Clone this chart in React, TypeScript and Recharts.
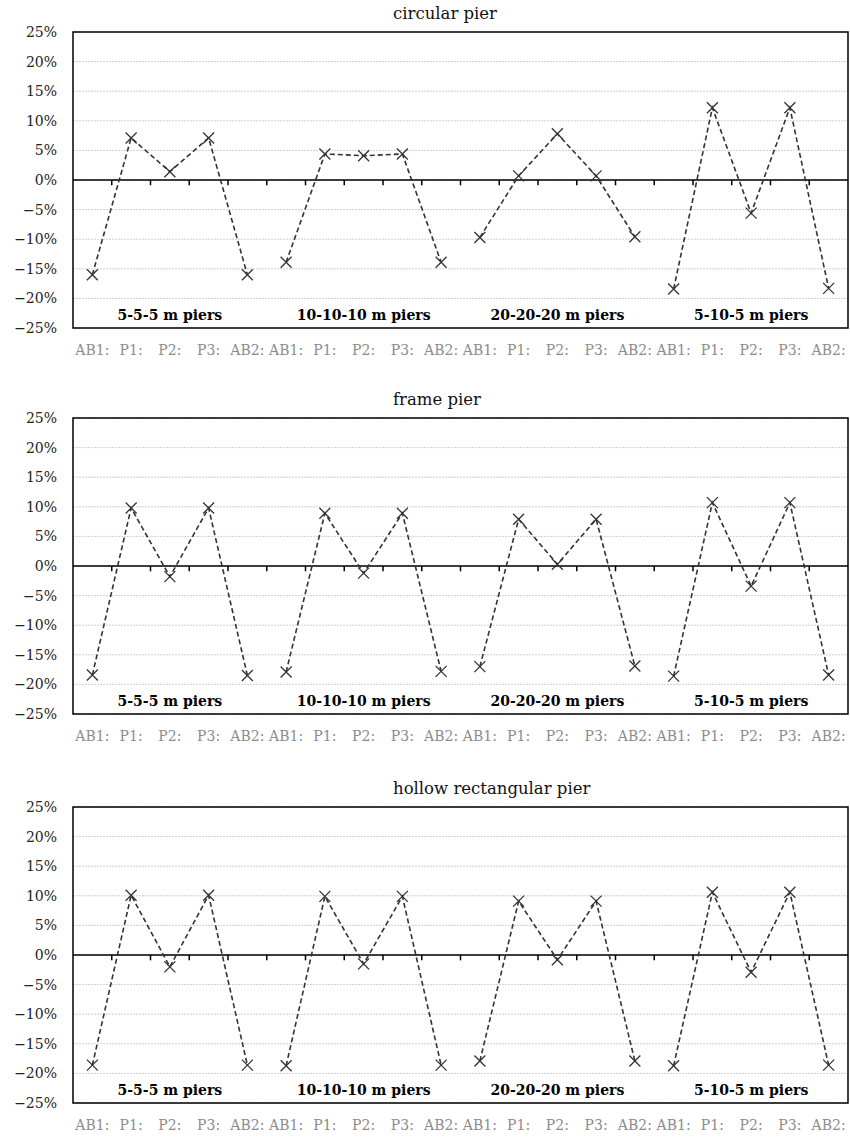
import React from "react";
import {
  LineChart,
  Line,
  XAxis,
  YAxis,
  CartesianGrid,
  ReferenceLine,
  ReferenceArea,
  ReferenceDot,
} from "recharts";

const categories = ["AB1:", "P1:", "P2:", "P3:", "AB2:"];
const groups = ["5-5-5 m piers", "10-10-10 m piers", "20-20-20 m piers", "5-10-5 m piers"];
const yTicks = [-25, -20, -15, -10, -5, 0, 5, 10, 15, 20, 25];

// % difference, read per support, 4 groups x 5 supports
const circularPier = [
  -16.0, 7.1, 1.4, 7.1, -16.0,
  -13.9, 4.4, 4.1, 4.4, -13.9,
  -9.7, 0.7, 7.8, 0.7, -9.6,
  -18.4, 12.2, -5.6, 12.2, -18.3,
];
const framePier = [
  -18.4, 9.8, -1.8, 9.8, -18.5,
  -17.9, 8.9, -1.2, 8.9, -17.8,
  -17.0, 7.9, 0.3, 7.9, -16.9,
  -18.6, 10.7, -3.4, 10.7, -18.4,
];
const hollowPier = [
  -18.6, 10.1, -2.0, 10.1, -18.6,
  -18.7, 9.9, -1.5, 9.9, -18.6,
  -17.9, 9.1, -0.8, 9.1, -17.9,
  -18.7, 10.6, -2.9, 10.6, -18.6,
];

const panels = [
  { title: "circular pier", values: circularPier },
  { title: "frame pier", values: framePier },
  { title: "hollow rectangular pier", values: hollowPier },
];

const FONT = "'DejaVu Serif', serif";
const per = categories.length;
const n = groups.length * per;
const xTicks = Array.from({ length: n }, (_, i) => i + 0.5);
const boundaries = Array.from({ length: n - 1 }, (_, i) => i + 1);

const fmtPct = (v: number) => (v < 0 ? `\u2212${Math.abs(v)}%` : `${v}%`);

const Cross = (props: any) => {
  const { cx, cy, index } = props;
  if (cx == null || cy == null) return null;
  const s = 5.5;
  return (
    <path
      key={`x-${index}`}
      d={`M${cx - s},${cy - s}L${cx + s},${cy + s}M${cx - s},${cy + s}L${cx + s},${cy - s}`}
      stroke="#333"
      strokeWidth={1.3}
      fill="none"
    />
  );
};

function Panel({ title, values }: { title: string; values: number[] }) {
  const series = groups.map((_, g) =>
    values.slice(g * per, (g + 1) * per).map((v, j) => ({ x: g * per + j + 0.5, v }))
  );
  return (
    <div style={{ position: "relative", width: 850, height: 380 }}>
      <div
        style={{
          position: "absolute",
          left: 393,
          top: 4,
          fontFamily: FONT,
          fontSize: 16.5,
          color: "#111",
          whiteSpace: "nowrap",
        }}
      >
        {title}
      </div>
      <LineChart width={850} height={380} margin={{ top: 32, right: 2, left: 0, bottom: 12 }}>
        <CartesianGrid
          horizontal={true}
          vertical={false}
          stroke="#cfcfcf"
          strokeDasharray="2 1"
        />
        <XAxis
          dataKey="x"
          type="number"
          domain={[0, n]}
          ticks={xTicks}
          interval={0}
          allowDuplicatedCategory={false}
          axisLine={false}
          tickLine={false}
          tickMargin={11}
          height={40}
          tick={{ fill: "#8c8c8c", fontSize: 14, fontFamily: FONT }}
          tickFormatter={(v: number) => categories[Math.floor(v) % per]}
        />
        <YAxis
          type="number"
          domain={[-25, 25]}
          ticks={yTicks}
          interval={0}
          width={73}
          axisLine={false}
          tickLine={false}
          tickMargin={10}
          tick={{ fill: "#222", fontSize: 14, fontFamily: FONT }}
          tickFormatter={fmtPct}
        />
        <ReferenceArea
          x1={0}
          x2={n}
          y1={-25}
          y2={25}
          fill="none"
          stroke="#000"
          strokeWidth={1.5}
          ifOverflow="visible"
        />
        <ReferenceLine y={0} stroke="#000" strokeWidth={1.5} />
        {boundaries.map((b) => (
          <ReferenceLine
            key={b}
            segment={[
              { x: b, y: 0 },
              { x: b, y: -0.9 },
            ]}
            stroke="#000"
            strokeWidth={1.5}
          />
        ))}
        {series.map((d, g) => (
          <Line
            key={groups[g]}
            data={d}
            dataKey="v"
            type="linear"
            stroke="#333"
            strokeWidth={1.6}
            strokeDasharray="5 3"
            dot={Cross}
            activeDot={false}
            isAnimationActive={false}
          />
        ))}
        {groups.map((g, i) => (
          <ReferenceDot
            key={g}
            x={i * per + per / 2}
            y={-22.8}
            r={0}
            fill="none"
            stroke="none"
            label={{
              value: g,
              position: "center",
              fill: "#000",
              fontSize: 14,
              fontWeight: "bold",
              fontFamily: FONT,
            }}
          />
        ))}
      </LineChart>
    </div>
  );
}

export default function App() {
  const tops = [0, 386, 775];
  return (
    <div
      style={{
        position: "absolute",
        left: 0,
        top: 0,
        width: 850,
        height: 1137,
        background: "#fff",
      }}
    >
      {panels.map((p, i) => (
        <div key={p.title} style={{ position: "absolute", left: 0, top: tops[i] }}>
          <Panel title={p.title} values={p.values} />
        </div>
      ))}
    </div>
  );
}
